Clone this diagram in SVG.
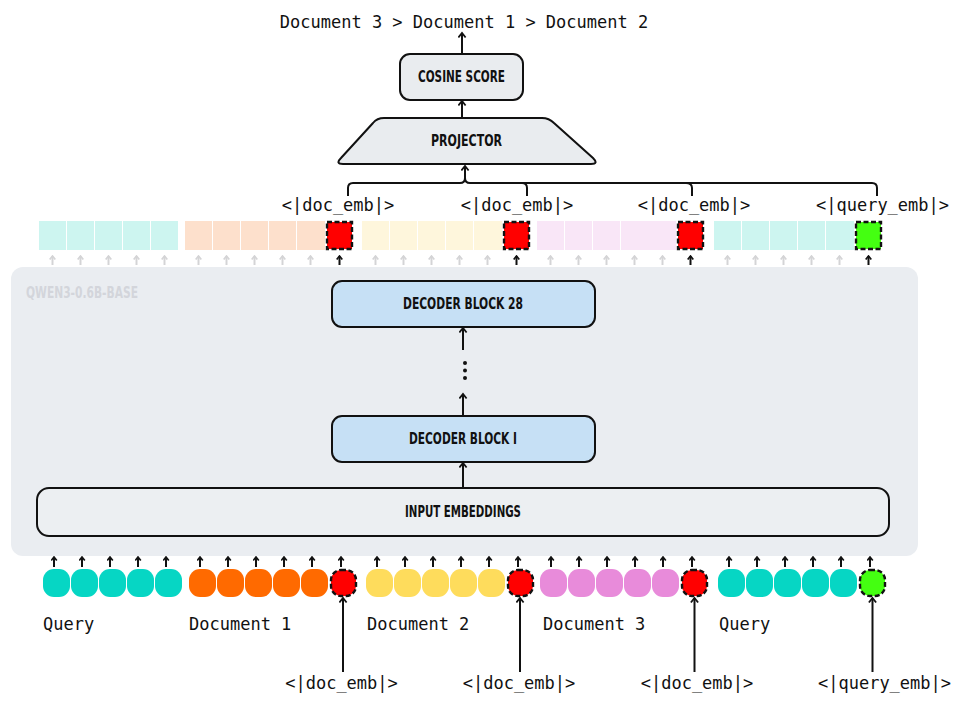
<svg xmlns="http://www.w3.org/2000/svg" width="959" height="704" viewBox="0 0 959 704">
<style>
.mono{font-family:"DejaVu Sans Mono","Liberation Mono",monospace;font-size:17px;fill:#111}
.cond{font-family:"DejaVu Sans","Liberation Sans",sans-serif;font-stretch:condensed;font-weight:bold;font-size:16px;fill:#111}
.box{stroke:#111;stroke-width:2}
.ln{stroke:#111;stroke-width:2;fill:none}
.gl{stroke:#d4d4d6;stroke-width:2;fill:none}
.spec{stroke:#111;stroke-width:2.4;stroke-dasharray:5 2.5}
.cq{fill:#cdf5f0}.cd1{fill:#fde0cc}.cd2{fill:#fef6dc}.cd3{fill:#f9e6f7}
.bq{fill:#06d6c4}.bd1{fill:#ff6a00}.bd2{fill:#fedc5c}.bd3{fill:#e88bda}
.red{fill:#ff0000}.grn{fill:#44ff11}
</style>
<defs>
<marker id="ah" viewBox="0 0 10 10" refX="8" refY="5" markerWidth="9" markerHeight="9" markerUnits="userSpaceOnUse" orient="auto">
<path d="M3,1 L8,5 L3,9" fill="none" stroke="#111" stroke-width="2"/>
</marker>
<marker id="ahs" viewBox="0 0 10 10" refX="8" refY="5" markerWidth="7" markerHeight="7" markerUnits="userSpaceOnUse" orient="auto">
<path d="M3,1 L8,5 L3,9" fill="none" stroke="#111" stroke-width="2.4"/>
</marker>
<marker id="ahg" viewBox="0 0 10 10" refX="8" refY="5" markerWidth="7" markerHeight="7" markerUnits="userSpaceOnUse" orient="auto">
<path d="M3,1 L8,5 L3,9" fill="none" stroke="#d4d4d6" stroke-width="2.4"/>
</marker>
</defs>
<rect width="959" height="704" fill="#ffffff"/>

<g id="model">
<rect x="11" y="267" width="907" height="289" rx="12" fill="#eaedf1"/>
<text class="cond" x="26" y="298" textLength="112" lengthAdjust="spacingAndGlyphs" style="fill:#d3d5db">QWEN3-0.6B-BASE</text>
</g>

<g id="input-embeddings">
<rect class="box" x="37" y="488" width="852" height="48" rx="12" fill="#eceff2"/>
<text class="cond" x="463" y="517" text-anchor="middle" textLength="116" lengthAdjust="spacingAndGlyphs">INPUT EMBEDDINGS</text>
</g>
<g id="decoder-1">
<rect class="box" x="332" y="416" width="263" height="46" rx="10" fill="#c6e0f5"/>
<text class="cond" x="463" y="444" text-anchor="middle" textLength="108" lengthAdjust="spacingAndGlyphs">DECODER BLOCK I</text>
</g>
<g id="decoder-28">
<rect class="box" x="332" y="281" width="263" height="46" rx="10" fill="#c6e0f5"/>
<text class="cond" x="463" y="309" text-anchor="middle" textLength="120" lengthAdjust="spacingAndGlyphs">DECODER BLOCK 28</text>
</g>
<g id="dots" fill="#111">
<circle cx="465" cy="363" r="2"/><circle cx="465" cy="370.5" r="2"/><circle cx="465" cy="378" r="2"/>
</g>

<g id="projector">
<path class="box" d="M384,118 L542,118 Q549,118 554,123 L593,158 Q599,164 591,164 L343,164 Q335,164 341,158 L373,123 Q377,118 384,118 Z" fill="#e9ecef"/>
<text class="cond" x="466.5" y="146" text-anchor="middle" textLength="71" lengthAdjust="spacingAndGlyphs">PROJECTOR</text>
</g>
<g id="cosine-score">
<rect class="box" x="400" y="54" width="123" height="46" rx="10" fill="#e9ecef"/>
<text class="cond" x="461.5" y="82" text-anchor="middle" textLength="87" lengthAdjust="spacingAndGlyphs">COSINE SCORE</text>
</g>
<g id="ranking">
<text class="mono" x="464" y="28" text-anchor="middle">Document 3 &gt; Document 1 &gt; Document 2</text>
</g>

<g id="output-embeddings">
<rect class="cq" x="39" y="221" width="27" height="29"/><rect class="cq" x="67" y="221" width="27" height="29"/><rect class="cq" x="95" y="221" width="27" height="29"/><rect class="cq" x="123" y="221" width="27" height="29"/><rect class="cq" x="151" y="221" width="27" height="29"/>
<rect class="cd1" x="185" y="221" width="27" height="29"/><rect class="cd1" x="213" y="221" width="27" height="29"/><rect class="cd1" x="241" y="221" width="27" height="29"/><rect class="cd1" x="269" y="221" width="27" height="29"/><rect class="cd1" x="297" y="221" width="28" height="29"/>
<rect class="red spec" x="327" y="222" width="25" height="27"/>
<rect class="cd2" x="362" y="221" width="27" height="29"/><rect class="cd2" x="390" y="221" width="27" height="29"/><rect class="cd2" x="418" y="221" width="27" height="29"/><rect class="cd2" x="446" y="221" width="27" height="29"/><rect class="cd2" x="474" y="221" width="28" height="29"/>
<rect class="red spec" x="504" y="222" width="25" height="27"/>
<rect class="cd3" x="537" y="221" width="27" height="29"/><rect class="cd3" x="565" y="221" width="27" height="29"/><rect class="cd3" x="593" y="221" width="27" height="29"/><rect class="cd3" x="621" y="221" width="55" height="29"/>
<rect class="red spec" x="678" y="222" width="25" height="27"/>
<rect class="cq" x="714" y="221" width="27" height="29"/><rect class="cq" x="742" y="221" width="27" height="29"/><rect class="cq" x="770" y="221" width="27" height="29"/><rect class="cq" x="798" y="221" width="27" height="29"/><rect class="cq" x="826" y="221" width="28" height="29"/>
<rect class="grn spec" x="856" y="222" width="25" height="27"/>
<text class="mono" x="338" y="211" text-anchor="middle">&lt;|doc_emb|&gt;</text>
<text class="mono" x="517" y="211" text-anchor="middle">&lt;|doc_emb|&gt;</text>
<text class="mono" x="694" y="211" text-anchor="middle">&lt;|doc_emb|&gt;</text>
<text class="mono" x="882.5" y="211" text-anchor="middle">&lt;|query_emb|&gt;</text>
</g>

<g id="input-tokens">
<rect class="bq" x="43" y="569" width="27" height="28" rx="11"/><rect class="bq" x="71" y="569" width="27" height="28" rx="11"/><rect class="bq" x="99" y="569" width="27" height="28" rx="11"/><rect class="bq" x="127" y="569" width="27" height="28" rx="11"/><rect class="bq" x="155" y="569" width="27" height="28" rx="11"/>
<rect class="bd1" x="189" y="569" width="27" height="28" rx="11"/><rect class="bd1" x="217" y="569" width="27" height="28" rx="11"/><rect class="bd1" x="245" y="569" width="27" height="28" rx="11"/><rect class="bd1" x="273" y="569" width="27" height="28" rx="11"/><rect class="bd1" x="301" y="569" width="27" height="28" rx="11"/>
<rect class="red spec" x="331" y="570" width="25" height="26" rx="10"/>
<rect class="bd2" x="366" y="569" width="27" height="28" rx="11"/><rect class="bd2" x="394" y="569" width="27" height="28" rx="11"/><rect class="bd2" x="422" y="569" width="27" height="28" rx="11"/><rect class="bd2" x="450" y="569" width="27" height="28" rx="11"/><rect class="bd2" x="478" y="569" width="27" height="28" rx="11"/>
<rect class="red spec" x="508" y="570" width="25" height="26" rx="10"/>
<rect class="bd3" x="540" y="569" width="27" height="28" rx="11"/><rect class="bd3" x="568" y="569" width="27" height="28" rx="11"/><rect class="bd3" x="596" y="569" width="27" height="28" rx="11"/><rect class="bd3" x="624" y="569" width="27" height="28" rx="11"/><rect class="bd3" x="652" y="569" width="27" height="28" rx="11"/>
<rect class="red spec" x="682" y="570" width="25" height="26" rx="10"/>
<rect class="bq" x="718" y="569" width="27" height="28" rx="11"/><rect class="bq" x="746" y="569" width="27" height="28" rx="11"/><rect class="bq" x="774" y="569" width="27" height="28" rx="11"/><rect class="bq" x="802" y="569" width="27" height="28" rx="11"/><rect class="bq" x="830" y="569" width="27" height="28" rx="11"/>
<rect class="grn spec" x="860" y="570" width="25" height="26" rx="10"/>
<text class="mono" x="43" y="630">Query</text>
<text class="mono" x="189" y="630">Document 1</text>
<text class="mono" x="367" y="630">Document 2</text>
<text class="mono" x="543" y="630">Document 3</text>
<text class="mono" x="719" y="630">Query</text>
<text class="mono" x="341.5" y="689" text-anchor="middle">&lt;|doc_emb|&gt;</text>
<text class="mono" x="519" y="689" text-anchor="middle">&lt;|doc_emb|&gt;</text>
<text class="mono" x="697" y="689" text-anchor="middle">&lt;|doc_emb|&gt;</text>
<text class="mono" x="884.5" y="689" text-anchor="middle">&lt;|query_emb|&gt;</text>
</g>

<g id="connectors">
<line class="ln" x1="462" y1="53" x2="462" y2="33" marker-end="url(#ah)"/>
<line class="ln" x1="462" y1="117" x2="462" y2="101" marker-end="url(#ah)"/>
<line class="ln" x1="463" y1="487" x2="463" y2="463" marker-end="url(#ah)"/>
<line class="ln" x1="463" y1="415" x2="463" y2="394" marker-end="url(#ah)"/>
<line class="ln" x1="463" y1="350" x2="463" y2="328" marker-end="url(#ah)"/>
<path class="ln" d="M348,196 L348,188 Q348,183 353,183 L460,183 Q465,183 465,178 L465,166" marker-end="url(#ah)"/>
<path class="ln" d="M465,178 Q465,183 470,183 L522,183 Q527,183 527,188 L527,196"/>
<path class="ln" d="M508,183 L872,183 Q877,183 877,188 L877,196"/>
<path class="ln" d="M686,183 Q692,183 692,188 L692,196"/>
<line class="ln" x1="343" y1="672" x2="343" y2="598" marker-end="url(#ah)"/>
<line class="ln" x1="520" y1="672" x2="520" y2="598" marker-end="url(#ah)"/>
<line class="ln" x1="694.5" y1="672" x2="694.5" y2="598" marker-end="url(#ah)"/>
<line class="ln" x1="872.5" y1="672" x2="872.5" y2="598" marker-end="url(#ah)"/>
<g class="ln" id="token-arrows">
<path d="M54,567V557" marker-end="url(#ahs)"/><path d="M82,567V557" marker-end="url(#ahs)"/><path d="M110,567V557" marker-end="url(#ahs)"/><path d="M138,567V557" marker-end="url(#ahs)"/><path d="M166,567V557" marker-end="url(#ahs)"/>
<path d="M200,567V557" marker-end="url(#ahs)"/><path d="M228,567V557" marker-end="url(#ahs)"/><path d="M256,567V557" marker-end="url(#ahs)"/><path d="M284,567V557" marker-end="url(#ahs)"/><path d="M312,567V557" marker-end="url(#ahs)"/><path d="M341,567V557" marker-end="url(#ahs)"/>
<path d="M377,567V557" marker-end="url(#ahs)"/><path d="M405,567V557" marker-end="url(#ahs)"/><path d="M433,567V557" marker-end="url(#ahs)"/><path d="M461,567V557" marker-end="url(#ahs)"/><path d="M489,567V557" marker-end="url(#ahs)"/><path d="M518,567V557" marker-end="url(#ahs)"/>
<path d="M551,567V557" marker-end="url(#ahs)"/><path d="M579,567V557" marker-end="url(#ahs)"/><path d="M607,567V557" marker-end="url(#ahs)"/><path d="M635,567V557" marker-end="url(#ahs)"/><path d="M663,567V557" marker-end="url(#ahs)"/><path d="M692,567V557" marker-end="url(#ahs)"/>
<path d="M729,567V557" marker-end="url(#ahs)"/><path d="M757,567V557" marker-end="url(#ahs)"/><path d="M785,567V557" marker-end="url(#ahs)"/><path d="M813,567V557" marker-end="url(#ahs)"/><path d="M841,567V557" marker-end="url(#ahs)"/><path d="M870,567V557" marker-end="url(#ahs)"/>
</g>
<g class="gl" id="hidden-arrows">
<path d="M52.5,265V256" marker-end="url(#ahg)"/><path d="M80.5,265V256" marker-end="url(#ahg)"/><path d="M108.5,265V256" marker-end="url(#ahg)"/><path d="M136.5,265V256" marker-end="url(#ahg)"/><path d="M164.5,265V256" marker-end="url(#ahg)"/>
<path d="M198.5,265V256" marker-end="url(#ahg)"/><path d="M226.5,265V256" marker-end="url(#ahg)"/><path d="M254.5,265V256" marker-end="url(#ahg)"/><path d="M282.5,265V256" marker-end="url(#ahg)"/><path d="M310.5,265V256" marker-end="url(#ahg)"/>
<path d="M375.5,265V256" marker-end="url(#ahg)"/><path d="M403.5,265V256" marker-end="url(#ahg)"/><path d="M431.5,265V256" marker-end="url(#ahg)"/><path d="M459.5,265V256" marker-end="url(#ahg)"/><path d="M487.5,265V256" marker-end="url(#ahg)"/>
<path d="M550.5,265V256" marker-end="url(#ahg)"/><path d="M578.5,265V256" marker-end="url(#ahg)"/><path d="M606.5,265V256" marker-end="url(#ahg)"/><path d="M634.5,265V256" marker-end="url(#ahg)"/><path d="M662.5,265V256" marker-end="url(#ahg)"/>
<path d="M727.5,265V256" marker-end="url(#ahg)"/><path d="M755.5,265V256" marker-end="url(#ahg)"/><path d="M783.5,265V256" marker-end="url(#ahg)"/><path d="M811.5,265V256" marker-end="url(#ahg)"/><path d="M839.5,265V256" marker-end="url(#ahg)"/>
</g>
<g class="ln" id="emb-arrows">
<path d="M339.5,265V256" marker-end="url(#ahs)"/><path d="M516.5,265V256" marker-end="url(#ahs)"/><path d="M690.5,265V256" marker-end="url(#ahs)"/><path d="M868.5,265V256" marker-end="url(#ahs)"/>
</g>
</g>
</svg>
